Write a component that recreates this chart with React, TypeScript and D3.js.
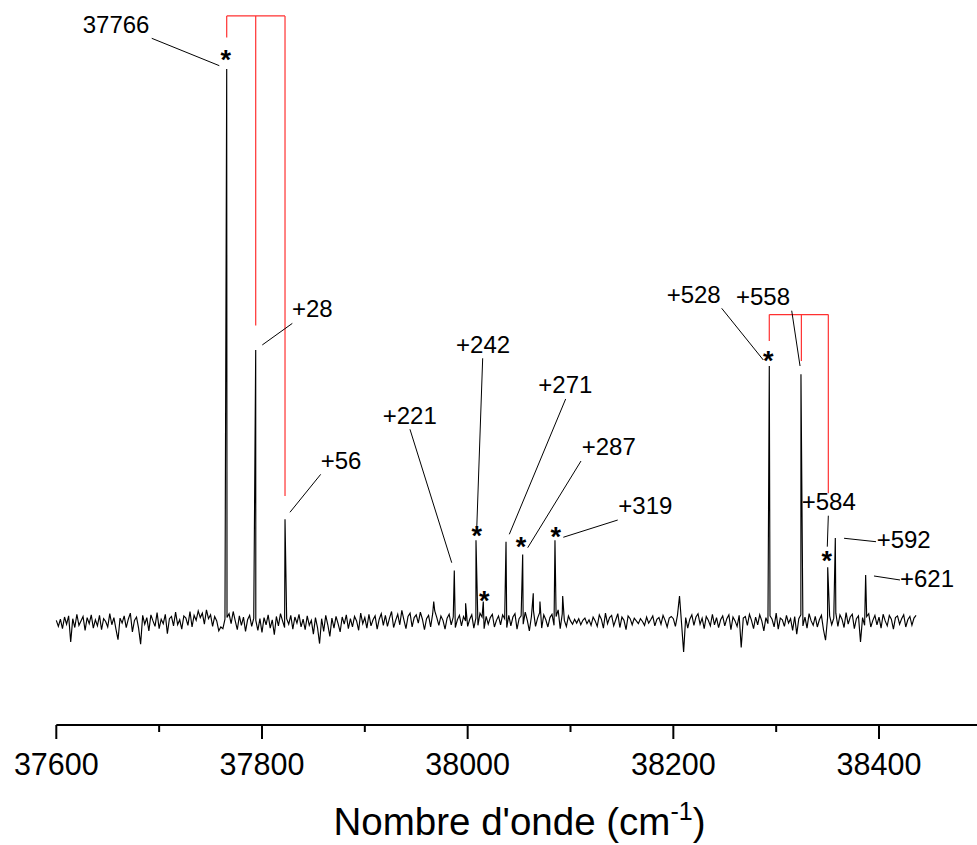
import React from 'react';
import * as d3 from 'd3';

const WIDTH = 977;
const HEIGHT = 845;

// Spectrum baseline (noise) sampled every 2 cm-1 starting at 37600 cm-1
const noiseStart = 37600;
const noiseStep = 2;
const noise: number[] = [
  0.3, -0.8, 0.5, -1.2, 0.9, -0.4, 1.1, -3.6, 0.6, -1.0, 1.4, -0.6, 0.2, 1.0, -1.5, 0.8, -0.3, 1.3, -1.1, 0.4,
  -0.7, 1.2, -1.4, 0.6, 0.1, -0.9, 1.5, -0.5, 0.8, -1.3, -3.2, 0.7, -0.2, 1.1, -1.0, 0.5, 1.6, -1.8, 0.3, 0.9,
  -1.1, -4.0, 1.2, -0.4, 0.8, -1.6, 1.3, 0.2, -0.8, 1.7, -1.2, 0.5, -0.3, 1.4, -2.1, 0.6, 1.0, -0.7, 1.8, -0.5,
  0.4, -1.3, 1.1, 0.7, -0.6, 1.9, -0.9, 1.2, 0.3, 2.0, 0.8, 1.6, -0.4, 2.2, 0.6, 1.3, -0.8, 1.0, 0.2, -1.6,
  -0.9, -1.2, 0.5, 0.8, 1.5, -0.3, 1.9, 0.2, -1.4, 1.1, -0.6, 0.9, -1.7, 0.4, 1.2, -0.8, 0.7, 0.3, -1.5, 0.6,
  -1.9, 0.8, -0.5, 1.3, -1.1, 0.4, -2.3, 1.0, -0.7, 1.5, 0.2, -1.0, 0.6, -0.4, 1.2, -1.3, 0.9, -0.2, 1.4, -0.9,
  0.5, -1.4, 1.1, -0.6, 0.3, -2.2, 0.8, -1.0, -3.9, 0.6, -1.7, 1.2, -0.5, -2.6, 0.7, -1.1, 1.0, -0.3, -1.8, 0.9,
  -0.4, 1.3, -1.2, 0.6, -0.9, 1.0, 0.2, -1.5, 1.6, -0.3, 0.8, -1.1, 1.4, -0.7, 0.4, 1.1, -1.3, 0.5, 1.5, -0.6,
  1.2, -0.8, 0.7, 1.9, -1.0, 0.3, 1.4, -0.5, 2.1, 0.4, -1.2, 1.0, 1.6, -0.9, 0.8, 1.3, -0.2, 1.8, 0.5, -1.4,
  0.6, 1.2, -0.9, 1.5, 2.0, 0.8, -0.6, 1.1, 0.3, -1.3, 0.7, 1.4, -0.5, 0.9, -1.0, 0.4, 1.2, -0.7, 1.0, 0.2,
  -0.8, 0.5, 1.3, -1.1, 0.7, -0.6, 1.6, 0.9, -1.2, 1.0, -0.4, 0.8, 1.4, -0.9, 0.3, 1.1, -0.5, 1.3, 0.6, -1.0,
  1.2, -0.7, 0.9, 1.5, -1.3, 0.6, 1.1, -0.4, 1.8, 0.3, -1.6, 1.0, 2.0, -0.8, 0.7, 1.7, -1.1, 1.3, 0.4, -0.9,
  0.8, 1.4, -0.6, 1.0, 2.2, -1.2, 1.5, 0.3, -0.8, 1.1, 0.2, -0.4, 0.5, -0.2, 0.6, -0.5, 0.3, 0.7, -0.3, 0.4,
  -0.6, 0.9, 0.2, -0.8, 1.3, 0.5, -1.1, 1.6, -0.3, 0.8, 1.2, -0.7, 0.4, 1.5, -1.0, 0.9, 0.3, -1.4, 1.1, 0.6,
  -0.5, 0.7, 0.2, -0.3, 0.6, 0.1, -0.6, 0.9, -0.2, 0.4, 1.1, -0.7, 0.5, 0.8, -0.4, 1.2, 0.3, -0.9, 0.7, 1.0,
  0.6, -0.8, 1.2, 4.7, -0.3, -5.4, 0.8, -1.1, 0.5, 1.3, -0.6, 0.9, 1.5, -0.4, 0.7, -1.2, 1.0, 0.3, -0.7, 1.4,
  -0.5, 0.8, -1.0, 0.4, 1.1, -0.7, 0.6, 1.3, -1.4, 0.9, 0.2, -0.8, 1.2, -4.6, 0.7, 1.0, -0.6, 1.4, 0.3, -1.2,
  0.9, -0.5, 1.3, 0.2, -1.6, 0.8, -0.3, 1.1, 0.5, -0.9, 1.6, -1.3, 0.7, 0.4, -0.8, 1.2, -0.2, 0.6, -1.5, 1.0,
  -2.2, 0.6, 1.3, -0.7, 0.9, -1.1, 1.5, 0.2, -0.6, 1.0, -0.9, 0.4, 1.2, -1.4, -3.3, 0.8, 1.1, -0.5, 0.7, 1.6,
  -0.8, 1.3, 0.5, -1.0, 1.7, -0.4, 0.9, 1.4, -1.2, 0.6, 1.1, -3.6, 0.8, -0.6, 1.0, 1.5, -0.9, 0.3, 1.2, -0.5,
  0.9, -1.1, 1.4, 0.2, -0.7, 1.2, 0.5, -1.3, 0.8, 1.1, -0.4, 0.6, 1.3, -0.9, 0.4, 1.0, -0.6, 0.7, 1.2,
];

// Peak maxima: [wavenumber cm-1, intensity (main band = 100)]
const peaks: [number, number][] = [
  [37765.7, 100], [37793.9, 49.2], [37822.4, 18.6],
  [37967, 3.7], [37987, 9.3], [37998, 3.4], [38008.1, 14.8], [38015.2, 3.7],
  [38037.3, 14.5], [38053.5, 12.2], [38063.8, 5.2], [38070.3, 3.7],
  [38084.9, 14.8], [38092.4, 4.7],
  [38293.3, 46.3], [38324.1, 44.8], [38350.1, 9.9], [38357.5, 15.2], [38387, 8.5],
];

const majorTicks = [37600, 37800, 38000, 38200, 38400];
const minorTicks = [37700, 37900, 38100, 38300, 38500];

// Annotations, in data coordinates: label anchor, leader start, leader end
const labelTexts = ['37766', '+28', '+56', '+221', '+242', '+271', '+287', '+319', '+528', '+558', '+584', '+592', '+621'];
const labelAt: [number, number][] = [
  [37625.7, 106.5], [37829.2, 55.15], [37857.1, 27.67], [37917.4, 35.8], [37988.7, 48.64],
  [38068.7, 41.36], [38110.9, 30.2], [38146.5, 19.48], [38193.5, 57.74], [38260.9, 57.32],
  [38324.8, 20.25], [38397.7, 13.33], [38420.4, 6.38],
];
const leaderFrom: [number, number][] = [
  [37692.8, 105.55], [37829.5, 54.0], [37857.1, 26.7], [37943.9, 34.85], [38014.6, 47.69],
  [38095.3, 40.33], [38110.2, 29.11], [38145.9, 18.44], [38247, 56.73], [38315.1, 56.29],
  [38350.7, 19.22], [38366, 15.14], [38395.1, 8.32],
];
const leaderTo: [number, number][] = [
  [37758.5, 100.6], [37800.3, 50.1], [37827.2, 19.84], [37984.5, 10.72], [38008.8, 16.76],
  [38040.5, 15.86], [38058.4, 13.44], [38093, 15.32], [38287.5, 47.38], [38323.2, 46.29],
  [38349.7, 13.62], [38397.1, 14.52], [38420.4, 7.6],
];

// Asterisk markers (data coordinates of glyph centre)
const asterisks: [number, number][] = [
  [37764.7, 102.7], [38008.8, 16.64], [38016.2, 4.88], [38051.9, 14.7],
  [38085.6, 16.5], [38292.3, 48.3], [38349.1, 12.1],
];

// Progression brackets: member wavenumbers, top level, lower ends
const bracketMembers = [
  [37765.7, 37793.9, 37822.4],
  [38293.3, 38324.5, 38350.7],
];
const bracketTop = [109.6, 55.6];
const bracketEnds = [
  [105.7, 53.6, 22.8],
  [50.8, 47.2, 23.3],
];

const FONT = 'Liberation Sans, Arial, Helvetica, sans-serif';

export default function App() {
  const x = d3.scaleLinear().domain([37600, 38500]).range([56.3, 56.3 + 900 * 1.0284]);
  const y = d3.scaleLinear().domain([0, 100]).range([622, 69]);
  const axisY = 725;

  const pts: [number, number][] = noise.map((v, i) => [noiseStart + i * noiseStep, v] as [number, number]);
  const all = pts.concat(peaks).sort((a, b) => a[0] - b[0]);
  const line = d3.line<[number, number]>().x(d => x(d[0])).y(d => y(d[1]));

  return (
    <svg width={WIDTH} height={HEIGHT} style={{ position: 'absolute', left: 0, top: 0, background: '#fff' }}>
      <rect x={0} y={0} width={WIDTH} height={HEIGHT} fill="#fff" />
      {/* brackets */}
      {bracketMembers.map((mem, bi) => (
        <g key={'b' + bi} stroke="#ff3030" strokeWidth={1.2} fill="none">
          <line x1={x(mem[0])} x2={x(mem[mem.length - 1])} y1={y(bracketTop[bi])} y2={y(bracketTop[bi])} />
          {mem.map((m, j) => (
            <line key={j} x1={x(m)} x2={x(m)} y1={y(bracketTop[bi])} y2={y(bracketEnds[bi][j])} />
          ))}
        </g>
      ))}
      {/* spectrum */}
      <path d={line(all) || ''} fill="none" stroke="#000" strokeWidth={1.15} strokeLinejoin="miter" />
      {/* leaders */}
      <g stroke="#000" strokeWidth={1}>
        {leaderFrom.map((f, i) => (
          <line key={i} x1={x(f[0])} y1={y(f[1])} x2={x(leaderTo[i][0])} y2={y(leaderTo[i][1])} />
        ))}
      </g>
      {/* labels */}
      <g fontFamily={FONT} fontSize={24} fill="#000">
        {labelTexts.map((t, i) => (
          <text key={i} x={x(labelAt[i][0])} y={y(labelAt[i][1])}>{t}</text>
        ))}
      </g>
      {/* asterisks */}
      <g fontFamily={FONT} fontSize={27} fontWeight="bold" fill="#000" textAnchor="middle">
        {asterisks.map((a, i) => (
          <text key={i} x={x(a[0])} y={y(a[1]) + 15}>*</text>
        ))}
      </g>
      {/* axis */}
      <line x1={x(37600)} x2={x(38500)} y1={axisY} y2={axisY} stroke="#000" strokeWidth={2} />
      {majorTicks.map(t => (
        <g key={t}>
          <line x1={x(t)} x2={x(t)} y1={axisY} y2={axisY + 14} stroke="#000" strokeWidth={2} />
          <text x={x(t)} y={775} textAnchor="middle" fontFamily={FONT} fontSize={30.5}>{t}</text>
        </g>
      ))}
      {minorTicks.map(t => (
        <line key={t} x1={x(t)} x2={x(t)} y1={axisY} y2={axisY + 7} stroke="#000" strokeWidth={2} />
      ))}
      <text x={519.5} y={835} textAnchor="middle" fontFamily={FONT} fontSize={38.5}>
        Nombre d'onde (cm<tspan dy={-15} fontSize={25}>-1</tspan><tspan dy={15}>)</tspan>
      </text>
    </svg>
  );
}
